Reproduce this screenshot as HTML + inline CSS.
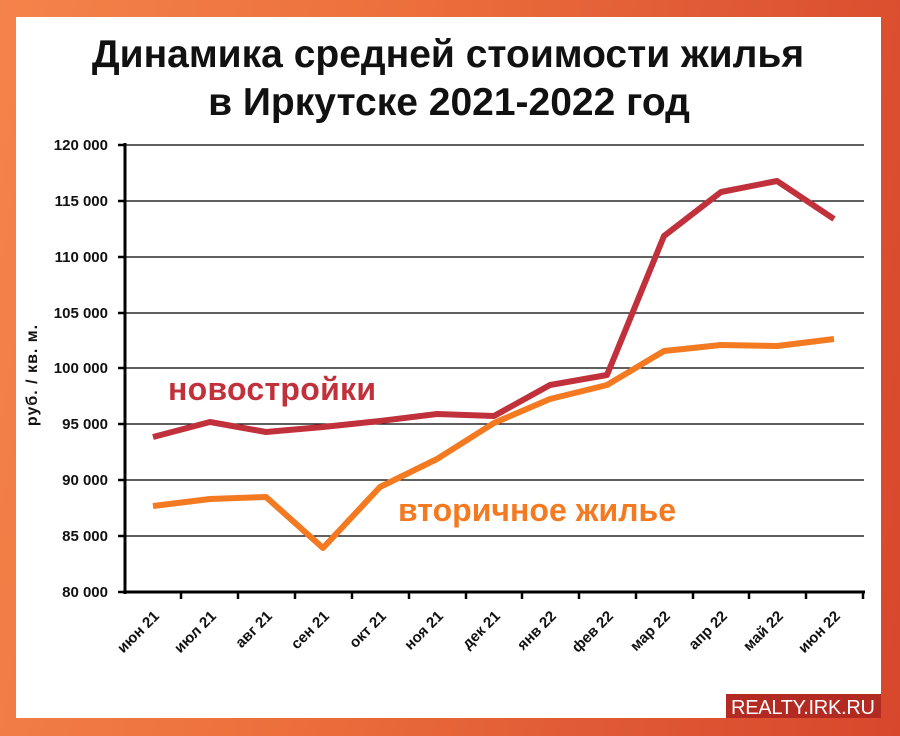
<!DOCTYPE html><html><head><meta charset="utf-8"><style>
body{margin:0;width:900px;height:736px;overflow:hidden;background:linear-gradient(100deg,#f4834a 0%,#ec6f3c 40%,#e05a35 70%,#d8472c 100%);font-family:"Liberation Sans","DejaVu Sans",sans-serif}
</style></head><body>
<svg width="900" height="736" style="position:absolute;left:0;top:0">
<rect x="16" y="17" width="865" height="701" fill="#fff"/>
<g font-family="Liberation Sans, DejaVu Sans, sans-serif" font-weight="bold" fill="#111">
<text x="448" y="67" font-size="39" text-anchor="middle">Динамика  средней стоимости жилья</text>
<text x="449" y="115" font-size="39" text-anchor="middle">в Иркутске 2021-2022 год</text>
</g>
<g stroke="#000" stroke-width="1.3">
<line x1="125" y1="145" x2="864" y2="145"/><line x1="125" y1="201" x2="864" y2="201"/><line x1="125" y1="257" x2="864" y2="257"/><line x1="125" y1="313" x2="864" y2="313"/><line x1="125" y1="368" x2="864" y2="368"/><line x1="125" y1="424" x2="864" y2="424"/><line x1="125" y1="480" x2="864" y2="480"/><line x1="125" y1="536" x2="864" y2="536"/>
</g>
<g stroke="#000" stroke-width="3">
<line x1="125" y1="143" x2="125" y2="594"/><line x1="123" y1="592" x2="865" y2="592"/>
</g>
<g stroke="#000" stroke-width="2.5">
<line x1="118" y1="145" x2="125" y2="145"/><line x1="118" y1="201" x2="125" y2="201"/><line x1="118" y1="257" x2="125" y2="257"/><line x1="118" y1="313" x2="125" y2="313"/><line x1="118" y1="368" x2="125" y2="368"/><line x1="118" y1="424" x2="125" y2="424"/><line x1="118" y1="480" x2="125" y2="480"/><line x1="118" y1="536" x2="125" y2="536"/><line x1="118" y1="592" x2="125" y2="592"/>
<line x1="181" y1="592" x2="181" y2="599"/><line x1="238" y1="592" x2="238" y2="599"/><line x1="295" y1="592" x2="295" y2="599"/><line x1="352" y1="592" x2="352" y2="599"/><line x1="409" y1="592" x2="409" y2="599"/><line x1="466" y1="592" x2="466" y2="599"/><line x1="522" y1="592" x2="522" y2="599"/><line x1="579" y1="592" x2="579" y2="599"/><line x1="636" y1="592" x2="636" y2="599"/><line x1="693" y1="592" x2="693" y2="599"/><line x1="749" y1="592" x2="749" y2="599"/><line x1="806" y1="592" x2="806" y2="599"/><line x1="863" y1="592" x2="863" y2="599"/>
</g>
<g font-size="15" font-weight="bold" fill="#111" text-anchor="end">
<text x="108" y="150">120 000</text><text x="108" y="206">115 000</text><text x="108" y="262">110 000</text><text x="108" y="318">105 000</text><text x="108" y="373">100 000</text><text x="108" y="429">95 000</text><text x="108" y="485">90 000</text><text x="108" y="541">85 000</text><text x="108" y="597">80 000</text>
</g>
<text transform="translate(37,375) rotate(-90)" font-size="16" font-weight="bold" fill="#111" text-anchor="middle" letter-spacing="1">руб. / кв. м.</text>
<g font-size="15" font-weight="bold" fill="#111" text-anchor="end">
<text transform="translate(160,617) rotate(-45)">июн 21</text>
<text transform="translate(217,617) rotate(-45)">июл 21</text>
<text transform="translate(273,617) rotate(-45)">авг 21</text>
<text transform="translate(330,617) rotate(-45)">сен 21</text>
<text transform="translate(387,617) rotate(-45)">окт 21</text>
<text transform="translate(444,617) rotate(-45)">ноя 21</text>
<text transform="translate(501,617) rotate(-45)">дек 21</text>
<text transform="translate(557,617) rotate(-45)">янв 22</text>
<text transform="translate(614,617) rotate(-45)">фев 22</text>
<text transform="translate(671,617) rotate(-45)">мар 22</text>
<text transform="translate(728,617) rotate(-45)">апр 22</text>
<text transform="translate(784,617) rotate(-45)">май 22</text>
<text transform="translate(841,617) rotate(-45)">июн 22</text>
</g>
<polyline fill="none" stroke="#f47a22" stroke-width="6" stroke-linejoin="round" points="153,506 210,499 266,497 323,548 380,487 437,459 494,423 550,399 607,385 664,351 721,345 777,346 834,339"/>
<polyline fill="none" stroke="#c1313b" stroke-width="6" stroke-linejoin="round" points="153,437 210,422 266,432 323,427 380,421 437,414 494,416 550,385 607,375 664,236 721,192 777,181 834,219"/>
<text x="168" y="400" font-size="32" font-weight="bold" fill="#c1313b" textLength="208">новостройки</text>
<text x="398" y="521" font-size="32" font-weight="bold" fill="#f47a22" textLength="278">вторичное жилье</text>
<rect x="726" y="694" width="155" height="24" fill="#b32a22"/>
<text x="803" y="714" font-size="20" fill="#fff" text-anchor="middle" textLength="144">REALTY.IRK.RU</text>
</svg>
</body></html>
